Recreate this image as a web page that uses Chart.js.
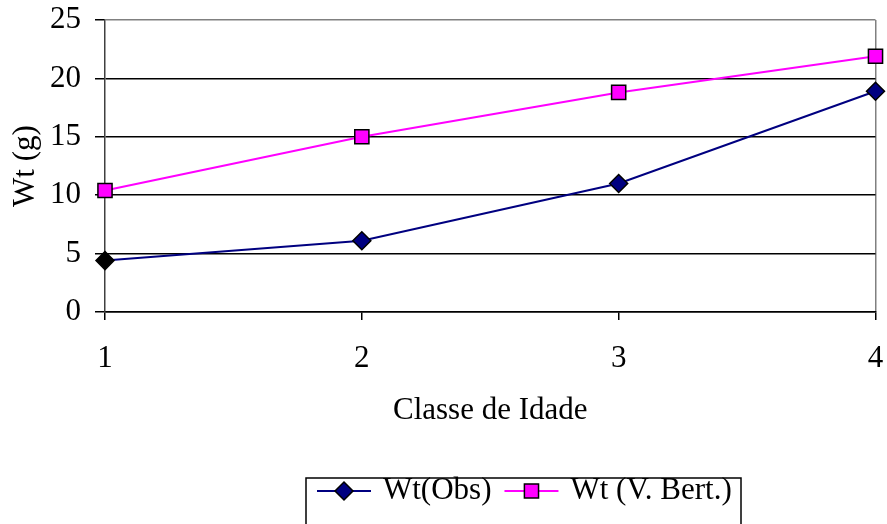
<!DOCTYPE html>
<html>
<head>
<meta charset="utf-8">
<script src="https://cdn.jsdelivr.net/npm/chart.js@4"></script>
<style>
  html, body { margin: 0; padding: 0; background: #fff; }
  #wrap { width: 887px; height: 524px; }
</style>
</head>
<body>
<div id="wrap"><canvas id="wtChart" width="887" height="524"></canvas></div>
<script>
// Data
const CLASSES = ['1', '2', '3', '4'];
const WT_OBS = [4.4, 6.1, 11.0, 18.9];
const WT_BERT = [10.4, 15.0, 18.8, 21.9];
const Y_TICKS = [0, 5, 10, 15, 20, 25];

const SERIF = "'Liberation Serif', 'Times New Roman', serif";
const FONT_SIZE = 31;

// Legend drawn as a framed box under the chart, clipped at the bottom
const boxLegend = {
    id: 'boxLegend',
    afterDraw(chart) {
        const ctx = chart.ctx;
        const left = 306, top = 478, width = 435;
        const cy = 491;
        ctx.save();
        ctx.strokeStyle = '#000';
        ctx.lineWidth = 1.5;
        ctx.strokeRect(left, top, width, 80);
        ctx.font = FONT_SIZE + 'px ' + SERIF;
        ctx.textBaseline = 'middle';
        let x = left + 11;
        chart.data.datasets.forEach(ds => {
            ctx.strokeStyle = ds.borderColor;
            ctx.lineWidth = 2;
            ctx.beginPath();
            ctx.moveTo(x, cy);
            ctx.lineTo(x + 54, cy);
            ctx.stroke();
            ctx.fillStyle = ds.legendFill;
            ctx.strokeStyle = '#000';
            ctx.lineWidth = 1.5;
            ctx.beginPath();
            if (ds.pointStyle === 'rectRot') {
                const r = ds.pointRadius;
                ctx.moveTo(x + 27, cy - r);
                ctx.lineTo(x + 27 + r, cy);
                ctx.lineTo(x + 27, cy + r);
                ctx.lineTo(x + 27 - r, cy);
                ctx.closePath();
            } else {
                const h = ds.pointRadius * Math.SQRT1_2;
                ctx.rect(x + 27 - h, cy - h, 2 * h, 2 * h);
            }
            ctx.fill();
            ctx.stroke();
            ctx.fillStyle = '#000';
            ctx.fillText(ds.label, x + 66, cy);
            x += 66 + ctx.measureText(ds.label).width + 13;
        });
        ctx.restore();
    }
};

new Chart(document.getElementById('wtChart'), {
    type: 'line',
    data: {
        labels: CLASSES,
        datasets: [
            {
                label: 'Wt(Obs)',
                data: WT_OBS,
                borderColor: '#000080',
                borderWidth: 2,
                pointStyle: 'rectRot',
                pointRadius: 9,
                pointBackgroundColor: ['#000000', '#000080', '#000080', '#000080'],
                legendFill: '#000080',
                pointBorderColor: '#000',
                pointBorderWidth: 1.5,
                tension: 0
            },
            {
                label: 'Wt (V. Bert.)',
                data: WT_BERT,
                borderColor: '#FF00FF',
                borderWidth: 2,
                pointStyle: 'rect',
                pointRadius: 10,
                pointBackgroundColor: '#FF00FF',
                legendFill: '#FF00FF',
                pointBorderColor: '#000',
                pointBorderWidth: 1.5,
                tension: 0
            }
        ]
    },
    options: {
        responsive: false,
        animation: false,
        clip: false,
        layout: { padding: { left: 0, top: 20, right: 11, bottom: 95 } },
        plugins: { legend: { display: false }, tooltip: { enabled: false } },
        scales: {
            x: {
                offset: false,
                afterFit: s => { s.height = 117; s.paddingLeft = 0; s.paddingRight = 0; },
                grid: {
                    drawOnChartArea: true,
                    color: c => c.index === CLASSES.length - 1 ? '#808080' : 'rgba(0,0,0,0)',
                    tickColor: '#000',
                    tickLength: 8,
                    lineWidth: 1.5
                },
                border: { color: '#000', width: 1.5 },
                ticks: { color: '#000', padding: 20, maxRotation: 0, font: { family: SERIF, size: FONT_SIZE } },
                title: { display: true, text: 'Classe de Idade', color: '#000', padding: 0, font: { family: SERIF, size: FONT_SIZE } }
            },
            y: {
                min: 0,
                max: 25,
                afterFit: s => { s.width = 105; s.paddingTop = 0; s.paddingBottom = 0; },
                afterBuildTicks: s => { s.ticks = Y_TICKS.map(v => ({ value: v })); },
                grid: {
                    color: c => c.tick.value === 25 ? '#808080' : '#000',
                    tickColor: '#000',
                    tickLength: 10,
                    lineWidth: 1.5
                },
                border: { color: '#404040', width: 1.5 },
                ticks: { color: '#000', padding: 14, font: { family: SERIF, size: FONT_SIZE } },
                title: { display: true, text: 'Wt (g)', color: '#000', padding: { top: 7, bottom: 0 }, font: { family: SERIF, size: FONT_SIZE } }
            }
        }
    },
    plugins: [boxLegend]
});
</script>
</body>
</html>
